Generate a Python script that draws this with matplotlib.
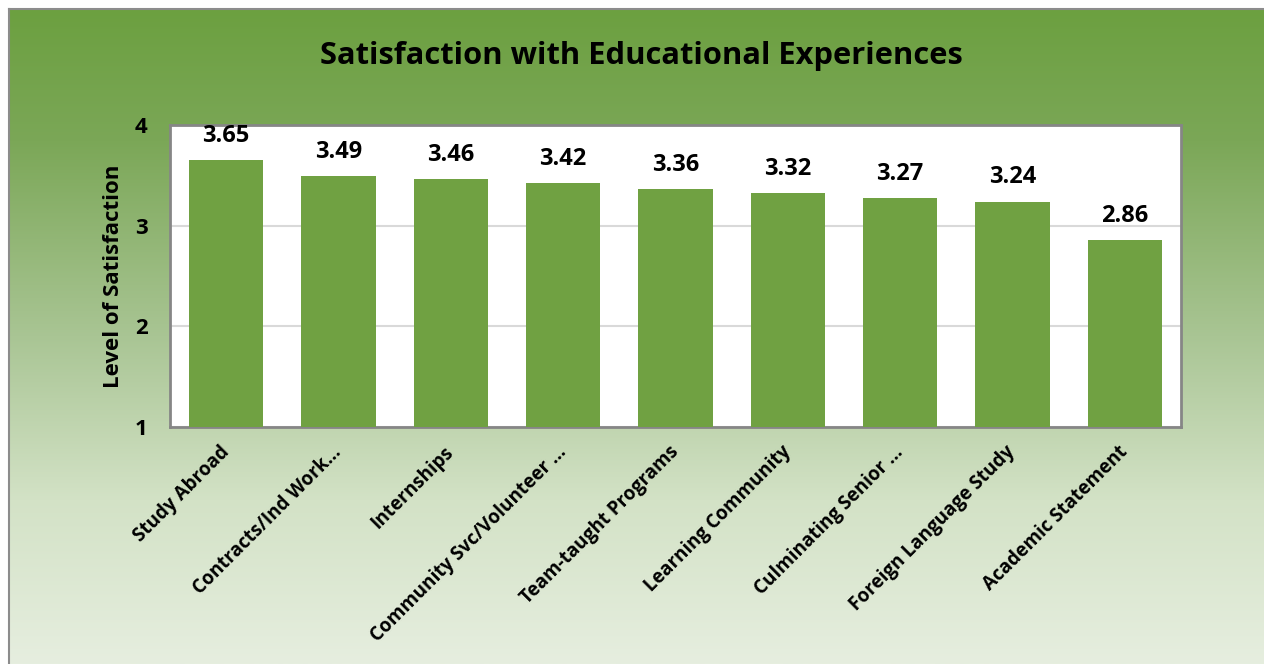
import numpy as np
import matplotlib
matplotlib.use("Agg")
import matplotlib.pyplot as plt
from matplotlib.colors import LinearSegmentedColormap

# Data
categories = ["Study Abroad", "Contracts/Ind Work\u2026", "Internships",
              "Community Svc/Volunteer \u2026", "Team-taught Programs",
              "Learning Community", "Culminating Senior \u2026",
              "Foreign Language Study", "Academic Statement"]
scores = [3.65, 3.49, 3.46, 3.42, 3.36, 3.32, 3.27, 3.24, 2.86]
y_ticks = [1, 2, 3, 4]

plt.rcParams['font.family'] = ['Open Sans', 'DejaVu Sans']

fig = plt.figure(figsize=(12.64, 6.64), dpi=100)

# gradient chart background
bg = fig.add_axes([9 / 1264, 0, 1 - 9 / 1264, 1 - 9 / 664])
grad_cmap = LinearSegmentedColormap.from_list(
    "bg", [(0.0, "#6ca040"), (0.2, "#7ba757"), (0.5, "#a9c594"),
           (0.75, "#d3e2c6"), (1.0, "#e6eedf")])
bg.imshow(np.linspace(0, 1, 256).reshape(-1, 1), aspect='auto', cmap=grad_cmap,
          extent=[0, 1, 0, 1], origin='upper')
bg.set_xlim(0, 1)
bg.set_ylim(0, 1)
bg.set_xticks([])
bg.set_yticks([])
for side in ['right', 'bottom']:
    bg.spines[side].set_visible(False)
for side in ['left', 'top']:
    bg.spines[side].set_color('#8c8c8c')
    bg.spines[side].set_linewidth(1.5)

ax = fig.add_axes([170 / 1264, 237 / 664, 1011 / 1264, 302 / 664])
ax.set_facecolor('white')
x = np.arange(len(categories))
bars = ax.bar(x, scores, width=0.66, bottom=0, color='#70a142', zorder=3)
ax.set_ylim(1, 4)
ax.set_xlim(-0.5, len(categories) - 0.5)
ax.set_yticks(y_ticks)
ax.set_yticklabels([str(t) for t in y_ticks], fontsize=16, fontweight='bold')
ax.yaxis.grid(True, color='#d9d9d9', linewidth=1.5, zorder=0)
ax.tick_params(axis='both', length=0)
ax.tick_params(axis='y', pad=16)
ax.set_xticks(x)
ax.set_xticklabels(categories, rotation=45, ha='right', va='center',
                   rotation_mode='anchor', fontsize=13.6, fontweight='bold')
ax.tick_params(axis='x', pad=16)
for s in ax.spines.values():
    s.set_color('#868686')
    s.set_linewidth(2)

for xi, v in zip(x, scores):
    ax.text(xi, v + 0.12, f"{v:.2f}", ha='center', va='bottom',
            fontsize=17, fontweight='bold', clip_on=False)

ax.set_ylabel("Level of Satisfaction", fontsize=16, fontweight='bold', labelpad=8)

fig.text(641 / 1264, 1 - 56 / 664, "Satisfaction with Educational Experiences",
         ha='center', va='center', fontsize=22.2, fontweight='bold')

fig.savefig("out.png", dpi=100)
